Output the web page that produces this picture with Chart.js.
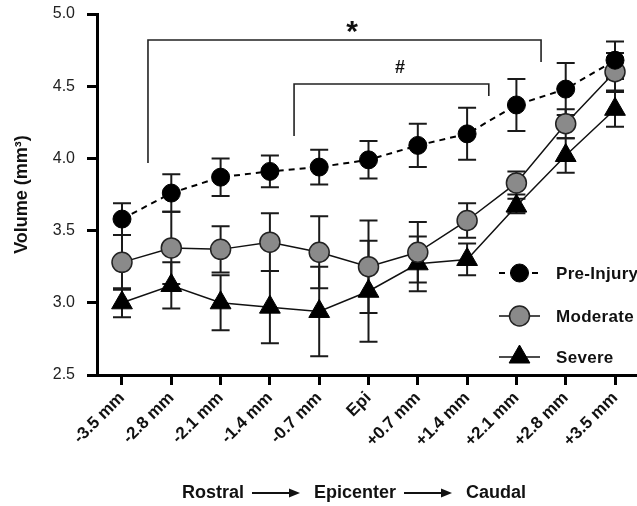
<!DOCTYPE html>
<html><head><meta charset="utf-8">
<script src="https://cdn.jsdelivr.net/npm/chart.js@4/dist/chart.umd.min.js"></script>
<style>html,body{margin:0;padding:0;background:#fff;overflow:hidden}canvas{display:block}</style>
</head><body>
<canvas id="c" width="637" height="506"></canvas>
<script>
// ---- data ----
const categories = ['-3.5 mm','-2.8 mm','-2.1 mm','-1.4 mm','-0.7 mm','Epi','+0.7 mm','+1.4 mm','+2.1 mm','+2.8 mm','+3.5 mm'];
const seriesNames = ['Pre-Injury','Moderate','Severe'];
const preInjury    = [3.58,3.76,3.87,3.91,3.94,3.99,4.09,4.17,4.37,4.48,4.68];
const preInjuryErr = [0.11,0.13,0.13,0.11,0.12,0.13,0.15,0.18,0.18,0.18,0.13];
const moderate     = [3.28,3.38,3.37,3.42,3.35,3.25,3.35,3.57,3.83,4.24,4.60];
const moderateErr  = [0.19,0.25,0.16,0.20,0.25,0.32,0.21,0.12,0.08,0.10,0.13];
const severe       = [3.00,3.12,3.00,2.97,2.94,3.08,3.27,3.30,3.67,4.02,4.34];
const severeErr    = [0.10,0.16,0.19,0.25,0.31,0.35,0.19,0.11,0.05,0.12,0.12];
const yTicks = [2.5,3.0,3.5,4.0,4.5,5.0];
const yTitle = 'Volume (mm³)';
const xTitleWords = ['Rostral','Epicenter','Caudal'];
// significance brackets (data units: category index / volume)
const brackets = [
  {label:'*', x1:0.527, x2:8.50, y:4.82, yLeft:3.968, yRight:4.668, lx:4.665, ly:4.91, size:30},
  {label:'#', x1:3.49,  x2:7.44, y:4.515, yLeft:4.155, yRight:4.432, lx:5.64, ly:4.633, size:18}
];

const FONT = '"Liberation Sans", Arial, Helvetica, sans-serif';
const toPts = arr => arr.map((v,i)=>({x:i,y:v}));

const styles = [
  {borderColor:'#000', borderWidth:2, borderDash:[6,5], pointStyle:'circle', pointRadius:9, bg:'#000', pb:'#000', pbw:1},
  {borderColor:'#111', borderWidth:1.5, borderDash:[], pointStyle:'circle', pointRadius:10, bg:'#8a8a8a', pb:'#222', pbw:1.5},
  {borderColor:'#111', borderWidth:1.5, borderDash:[], pointStyle:'triangle', pointRadius:12, bg:'#000', pb:'#000', pbw:1}
];
const values = [preInjury, moderate, severe];
const errs = [preInjuryErr, moderateErr, severeErr];

const datasets = values.map((v,k)=>({
  label: seriesNames[k],
  data: toPts(v),
  errors: errs[k],
  borderColor: styles[k].borderColor,
  borderWidth: styles[k].borderWidth,
  borderDash: styles[k].borderDash,
  pointStyle: styles[k].pointStyle,
  pointRadius: styles[k].pointRadius,
  pointHoverRadius: styles[k].pointRadius,
  pointBackgroundColor: styles[k].bg,
  pointBorderColor: styles[k].pb,
  pointBorderWidth: styles[k].pbw,
  fill:false, tension:0, clip:false
}));

function drawMarker(ctx, style, x, y, r, bg, bc, bw){
  ctx.beginPath();
  if(style==='triangle'){
    let rad=0;
    ctx.moveTo(x+Math.sin(rad)*r, y-Math.cos(rad)*r);
    rad+=2*Math.PI/3; ctx.lineTo(x+Math.sin(rad)*r, y-Math.cos(rad)*r);
    rad+=2*Math.PI/3; ctx.lineTo(x+Math.sin(rad)*r, y-Math.cos(rad)*r);
    ctx.closePath();
  } else {
    ctx.arc(x,y,r,0,Math.PI*2);
  }
  ctx.fillStyle=bg; ctx.fill();
  ctx.lineWidth=bw; ctx.strokeStyle=bc; ctx.setLineDash([]); ctx.stroke();
}

const errorBars = {
  id:'errorBars',
  beforeDatasetsDraw(chart){
    const {ctx, scales:{x,y}} = chart;
    ctx.save();
    ctx.strokeStyle='#1a1a1a'; ctx.lineWidth=2; ctx.setLineDash([]);
    chart.data.datasets.forEach(ds=>{
      ds.data.forEach((p,i)=>{
        const e=ds.errors[i];
        const px=x.getPixelForValue(p.x);
        const t=y.getPixelForValue(p.y+e), b=y.getPixelForValue(p.y-e);
        ctx.beginPath();
        ctx.moveTo(px,t); ctx.lineTo(px,b);
        ctx.moveTo(px-9,t); ctx.lineTo(px+9,t);
        ctx.moveTo(px-9,b); ctx.lineTo(px+9,b);
        ctx.stroke();
      });
    });
    ctx.restore();
  }
};

const bracketPlugin = {
  id:'brackets',
  afterDatasetsDraw(chart){
    const {ctx, scales:{x,y}} = chart;
    ctx.save();
    ctx.strokeStyle='#222'; ctx.lineWidth=1.6; ctx.setLineDash([]);
    brackets.forEach(b=>{
      const x1=x.getPixelForValue(b.x1), x2=x.getPixelForValue(b.x2);
      const yy=y.getPixelForValue(b.y);
      ctx.beginPath();
      ctx.moveTo(x1,y.getPixelForValue(b.yLeft)); ctx.lineTo(x1,yy);
      ctx.lineTo(x2,yy); ctx.lineTo(x2,y.getPixelForValue(b.yRight));
      ctx.stroke();
      ctx.fillStyle='#111';
      ctx.font='bold '+b.size+'px '+FONT;
      ctx.textAlign='center'; ctx.textBaseline='alphabetic';
      const m=ctx.measureText(b.label);
      const cy=y.getPixelForValue(b.ly);
      ctx.fillText(b.label, x.getPixelForValue(b.lx), cy+(m.actualBoundingBoxAscent-m.actualBoundingBoxDescent)/2);
    });
    ctx.restore();
  }
};

const legendPlugin = {
  id:'customLegend',
  afterDraw(chart){
    const {ctx} = chart;
    const rows=[273,316,357];
    ctx.save();
    chart.data.datasets.forEach((ds,k)=>{
      const yy=rows[k];
      ctx.beginPath();
      ctx.strokeStyle=ds.borderColor; ctx.lineWidth=ds.borderWidth;
      ctx.setLineDash(ds.borderDash);
      ctx.moveTo(499,yy); ctx.lineTo(540,yy); ctx.stroke();
      ctx.setLineDash([]);
      drawMarker(ctx, ds.pointStyle, 519.5, yy, ds.pointRadius, ds.pointBackgroundColor, ds.pointBorderColor, ds.pointBorderWidth);
      ctx.fillStyle='#111';
      ctx.font='bold 17px '+FONT;
      ctx.letterSpacing='0.3px';
      ctx.textAlign='left'; ctx.textBaseline='middle';
      ctx.fillText(ds.label, 556, yy+1);
    });
    ctx.restore();
  }
};

const xTitlePlugin = {
  id:'xTitle',
  afterDraw(chart){
    const {ctx} = chart;
    ctx.save();
    ctx.font='bold 18px '+FONT;
    ctx.fillStyle='#111'; ctx.strokeStyle='#111';
    ctx.textAlign='left'; ctx.textBaseline='middle';
    const arrowLen=48, gapBefore=8, gapAfter=14;
    const widths=xTitleWords.map(w=>ctx.measureText(w).width);
    const total=widths.reduce((a,b)=>a+b,0)+(xTitleWords.length-1)*(gapBefore+arrowLen+gapAfter);
    let cx=354-total/2;
    const cy=493;
    xTitleWords.forEach((w,i)=>{
      ctx.fillText(w,cx,cy);
      cx+=widths[i];
      if(i<xTitleWords.length-1){
        const a0=cx+gapBefore, a1=a0+arrowLen;
        ctx.lineWidth=2;
        ctx.beginPath(); ctx.moveTo(a0,cy); ctx.lineTo(a1-8,cy); ctx.stroke();
        ctx.beginPath(); ctx.moveTo(a1,cy); ctx.lineTo(a1-11,cy-4.5); ctx.lineTo(a1-11,cy+4.5); ctx.closePath(); ctx.fill();
        cx=a1+gapAfter;
      }
    });
    ctx.restore();
  }
};

new Chart(document.getElementById('c'), {
  type:'line',
  data:{datasets},
  options:{
    responsive:false,
    animation:false,
    events:[],
    layout:{autoPadding:false, padding:{top:14,left:0,right:0,bottom:0}},
    plugins:{legend:{display:false}, tooltip:{enabled:false}},
    scales:{
      x:{
        type:'linear',
        min:-0.507, max:10.446,
        afterBuildTicks(s){ s.ticks = categories.map((_,i)=>({value:i})); },
        afterFit(s){ s.height=131; s.paddingLeft=0; s.paddingRight=0; },
        border:{display:true, width:3, color:'#000'},
        grid:{display:true, drawOnChartArea:false, drawTicks:true, tickLength:10, tickWidth:3, tickColor:'#000'},
        ticks:{
          autoSkip:false, minRotation:45, maxRotation:45, padding:3,
          color:'#111', font:{family:FONT, size:17, weight:'bold'},
          callback:(v)=>categories[v] ?? ''
        }
      },
      y:{
        min:2.5, max:5.0,
        afterBuildTicks(s){ s.ticks = yTicks.map(v=>({value:v})); },
        afterFit(s){ s.width=97; s.paddingTop=0; s.paddingBottom=0; },
        border:{display:true, width:3, color:'#000'},
        grid:{display:true, drawOnChartArea:false, drawTicks:true, tickLength:10, tickWidth:3, tickColor:'#000'},
        ticks:{padding:12, color:'#222', font:{family:FONT, size:16}, callback:v=>Number(v).toFixed(1)},
        title:{display:true, text:yTitle, color:'#111', font:{family:FONT, size:18, weight:'bold'}, padding:{top:11,bottom:0}}
      }
    }
  },
  plugins:[errorBars, bracketPlugin, legendPlugin, xTitlePlugin]
});
</script>
</body></html>
